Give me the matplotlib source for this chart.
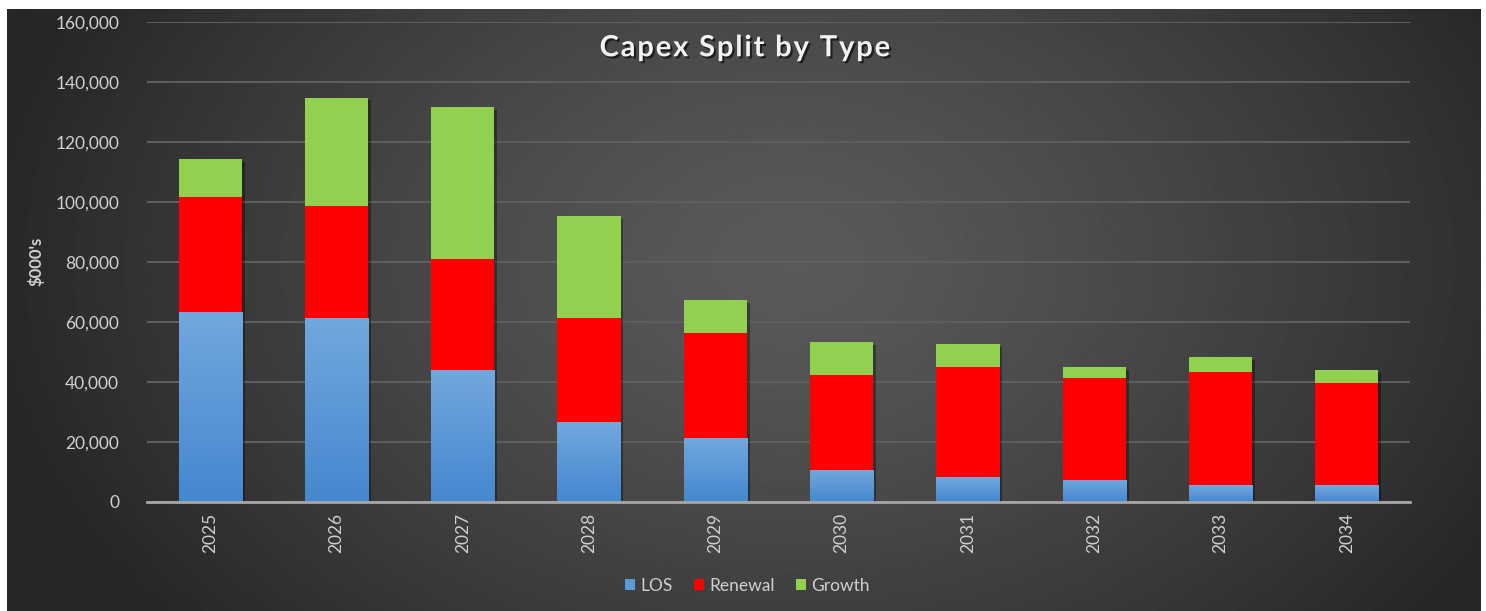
import numpy as np
import matplotlib
matplotlib.use("Agg")
import matplotlib.pyplot as plt
import matplotlib.patheffects as pe
from matplotlib.ticker import FuncFormatter

# capex by year, $000's
years = ["2025", "2026", "2027", "2028", "2029", "2030", "2031", "2032", "2033", "2034"]
los = [63300, 61100, 43900, 26500, 21100, 10600, 8200, 7100, 5500, 5500]
renewal = [38400, 37600, 37000, 34800, 35000, 31600, 36700, 34000, 37600, 34000]
growth = [12500, 36000, 50700, 33900, 11100, 11100, 7600, 3800, 5100, 4400]
series_names = ["LOS", "Renewal", "Growth"]
title = "Capex Split by Type"

plt.rcParams["font.family"] = ["Lato", "DejaVu Sans"]
TXT = "#d0d0d0"

W, H = 1486, 611
fig = plt.figure(figsize=(W / 100, H / 100), dpi=100)
fig.patch.set_facecolor("white")

# dark radial background panel
bg = fig.add_axes([7 / W, 0, (1481 - 7) / W, (H - 9) / H], zorder=-2)
bg.set_axis_off()
ny, nx = 300, 740
yy, xx = np.mgrid[0:ny, 0:nx]
r = np.sqrt(((xx - nx * 0.53) / (nx * 0.55)) ** 2 + ((yy - ny * 0.42) / (ny * 0.95)) ** 2)
shade = 90 - 52 * np.clip(r, 0, 1) ** 1.3
bg.imshow(shade, cmap="gray", vmin=0, vmax=255, aspect="auto", interpolation="bilinear")

ax = fig.add_axes([147 / W, (H - 501.7) / H, (1410 - 147) / W, 480 / H])
ax.set_facecolor("none")
x = np.arange(len(years))
los = np.array(los)
renewal = np.array(renewal)
growth = np.array(growth)

# soft shadow behind each whole stack
total = los + renewal + growth
ax.bar(x, total, width=0.5, color="#202020", zorder=2,
       path_effects=[pe.withSimplePatchShadow(offset=(2, -2), shadow_rgbFace="black", alpha=0.35)])

b1 = ax.bar(x, los, width=0.5, color="#5b9bd5", zorder=3)
b2 = ax.bar(x, renewal, width=0.5, bottom=los, color="#ff0000", zorder=3)
b3 = ax.bar(x, growth, width=0.5, bottom=los + renewal, color="#92d050", zorder=3)

# vertical blue gradient inside each LOS bar
grad = np.linspace(0, 1, 64).reshape(-1, 1)
blue_top = np.array([0x72, 0xa7, 0xde]) / 255
blue_bot = np.array([0x44, 0x88, 0xcf]) / 255
img = blue_bot + (blue_top - blue_bot) * grad[..., None]
for bar in b1:
    bx, by = bar.get_x(), bar.get_y()
    im = ax.imshow(img, extent=[bx, bx + bar.get_width(), by, by + bar.get_height()],
                   origin="lower", aspect="auto", zorder=4, interpolation="bilinear")
    im.set_clip_path(bar)

ax.set_xlim(-0.5, len(years) - 0.5)
ax.set_ylim(0, 160000)
ax.set_yticks(np.arange(0, 160001, 20000))
ax.yaxis.set_major_formatter(FuncFormatter(lambda v, p: f"{int(v):,}"))
ax.set_xticks(x)
ax.set_xticklabels(years, rotation=90)
ax.grid(axis="y", color="#5e5e5e", linewidth=1.5, zorder=0)
ax.set_axisbelow(True)
for s in ["top", "right", "left"]:
    ax.spines[s].set_visible(False)
ax.spines["bottom"].set_color("#a6a6a6")
ax.spines["bottom"].set_linewidth(2)
ax.spines["bottom"].set_zorder(5)
ax.tick_params(axis="both", length=0, colors=TXT, labelsize=12.5)
ax.tick_params(axis="y", pad=20)
ax.tick_params(axis="x", pad=8)

ax.set_ylabel("$000's", color=TXT, fontsize=12, fontweight="bold", labelpad=8)

# spaced-out title
fig.text(0.5015, 0.921, "\u200a".join(title), ha="center", va="center",
         color="#f2f2f2", fontsize=21, fontweight="bold",
         path_effects=[pe.withSimplePatchShadow(offset=(1.5, -1.5), shadow_rgbFace="black", alpha=0.6)])

leg = fig.legend([b1, b2, b3], series_names, loc="center", bbox_to_anchor=(0.503, 0.041),
                 ncol=3, frameon=False, fontsize=12.5, handlelength=0.6, handleheight=0.6,
                 handletextpad=0.3, columnspacing=1.2, labelcolor=TXT)

fig.savefig("out.png", dpi=100, facecolor=fig.get_facecolor())
